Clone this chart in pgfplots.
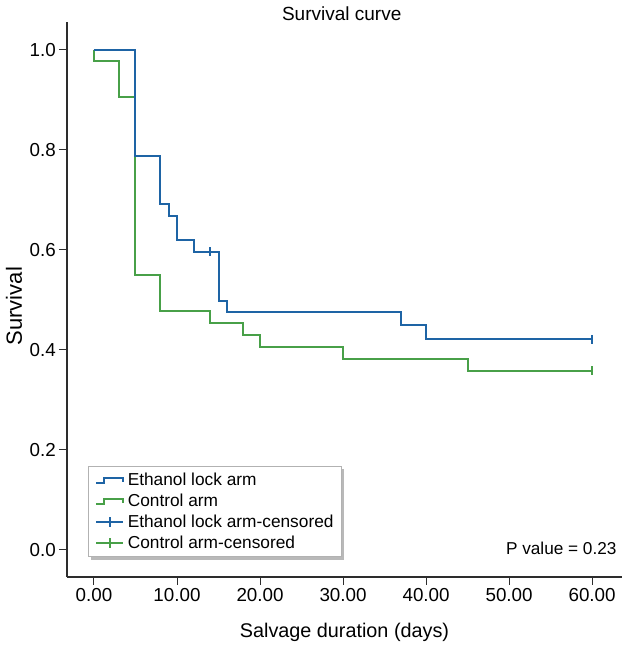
\documentclass[border=0pt]{standalone}
\usepackage{fontspec}
\setmainfont{Liberation Sans}
\usepackage{pgfplots}
\pgfplotsset{compat=1.18}
\usetikzlibrary{backgrounds}
\definecolor{ethblue}{RGB}{30,100,165}
\definecolor{ctlgreen}{RGB}{72,160,72}
\definecolor{axgray}{RGB}{45,45,45}
\pgfplotsset{
  steplegend/.style={legend image code/.code={\path[draw=none,fill=none] (0bp,-5bp) (32bp,5bp); \draw[##1] (4bp,-2.5bp) -- (12bp,-2.5bp) -- (12bp,2.5bp) -- (31bp,2.5bp) -- (31bp,-2bp);}},
  censlegend/.style={legend image code/.code={\path[draw=none,fill=none] (0bp,-5bp) (32bp,5bp); \draw[#1, line width=2bp] (4bp,0bp) -- (31bp,0bp); \draw[#1, line width=2bp] (17.5bp,-5bp) -- (17.5bp,5bp);}},
}
\begin{document}
\begin{tikzpicture}
\useasboundingbox (0,0) rectangle (630bp,650bp);
\begin{axis}[
  at={(67bp,73bp)}, anchor=south west,
  scale only axis, width=555bp, height=555bp,
  xmin=-3.25, xmax=63.6, ymin=-0.054, ymax=1.056,
  axis x line*=bottom, axis y line*=left,
  axis line style={axgray, line width=1.1bp, -},
  xtick={0,10,20,30,40,50,60}, ytick={0,0.2,0.4,0.6,0.8,1.0},
  tick align=outside, major tick length=8bp,
  tick style={axgray, line width=1bp},
  /pgf/number format/assume math mode=true,
  tick label style={font=\fontsize{18.8bp}{22bp}\selectfont, text=black},
  x tick label style={/pgf/number format/.cd, fixed, fixed zerofill, precision=2, assume math mode=true, /tikz/.cd},
  y tick label style={/pgf/number format/.cd, fixed, fixed zerofill, precision=1, assume math mode=true, /tikz/.cd, inner sep=3bp},
  xlabel={Salvage duration (days)},
  xlabel style={at={(axis description cs:0.5,-0.099)}, anchor=center, font=\fontsize{19.8bp}{23bp}\selectfont},
  ylabel={Survival},
  ylabel style={at={(axis description cs:-0.0955,0.488)}, anchor=center, font=\fontsize{22bp}{25bp}\selectfont},
  legend style={at={(rel axis cs:0.0378,0.036)}, anchor=south west, name=myleg,
    draw=gray!60, fill=white, line width=0.8bp,
    font=\fontsize{17.3bp}{20bp}\selectfont,
    inner xsep=4bp, inner ysep=3.5bp, row sep=0pt,
    nodes={inner sep=3.4bp}},
  legend cell align=left,
  clip=false,
]
\addplot[const plot, ethblue, line width=2bp, steplegend]
  coordinates {(0,1) (5,0.787) (8,0.692) (9,0.668) (10,0.620) (12,0.596) (15,0.497) (16,0.475) (37,0.450) (40,0.421) (60,0.421)};
\addlegendentry{Ethanol lock arm}
\addplot[const plot, ctlgreen, line width=2bp, steplegend]
  coordinates {(0,1) (0,0.977) (3,0.905) (5,0.550) (8,0.477) (14,0.453) (18,0.429) (20,0.405) (30,0.381) (45,0.358) (60,0.358)};
\addlegendentry{Control arm}
\addplot[only marks, ethblue, mark=|, mark size=4.5bp, mark options={line width=2bp}, censlegend=ethblue]
  coordinates {(14,0.596) (60,0.421)};
\addlegendentry{Ethanol lock arm-censored}
\addplot[only marks, ctlgreen, mark=|, mark size=4.5bp, mark options={line width=2bp}, censlegend=ctlgreen]
  coordinates {(60,0.358)};
\addlegendentry{Control arm-censored}
\addplot[const plot, ethblue, line width=2bp, forget plot]
  coordinates {(0,1) (5,0.787) (8,0.692)};
\node[anchor=center, font=\fontsize{19bp}{22bp}\selectfont] at ([yshift=8bp]rel axis cs:0.495,1) {Survival curve};
\node[anchor=east, font=\fontsize{17.2bp}{20bp}\selectfont] at (rel axis cs:0.9964,0.052) {P value = 0.23};
\end{axis}
\begin{pgfonlayer}{background}
\fill[gray!55] ([xshift=3bp,yshift=-3bp]myleg.south west) rectangle ([xshift=3bp,yshift=-3bp]myleg.north east);
\end{pgfonlayer}
\end{tikzpicture}
\end{document}
